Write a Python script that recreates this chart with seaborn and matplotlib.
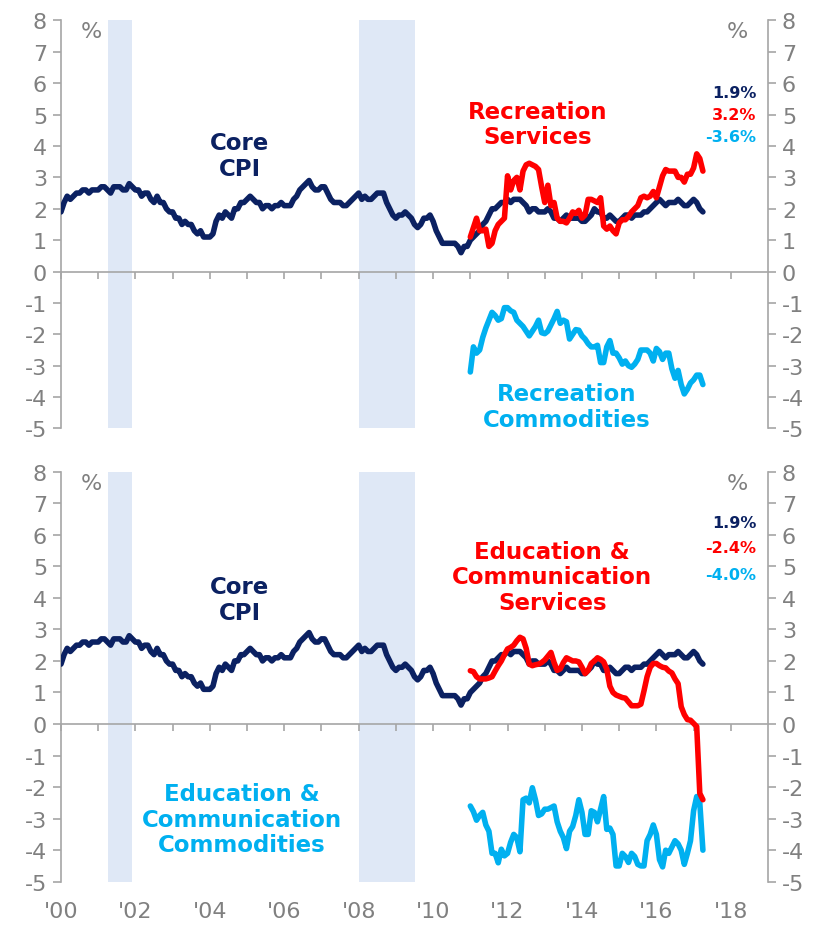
import numpy as np
import pandas as pd
import matplotlib.pyplot as plt
import seaborn as sns

# ---- data (year-over-year %, monthly) ----
core_cpi = [
    1.9, 2.2, 2.4, 2.3, 2.4, 2.5, 2.5, 2.6, 2.6, 2.5, 2.6, 2.6,
    2.6, 2.7, 2.7, 2.6, 2.5, 2.7, 2.7, 2.7, 2.6, 2.6, 2.8, 2.7,
    2.6, 2.6, 2.4, 2.5, 2.5, 2.3, 2.2, 2.4, 2.2, 2.2, 2.0, 1.9,
    1.9, 1.7, 1.7, 1.5, 1.6, 1.5, 1.5, 1.3, 1.2, 1.3, 1.1, 1.1,
    1.1, 1.2, 1.6, 1.8, 1.7, 1.9, 1.8, 1.7, 2.0, 2.0, 2.2, 2.2,
    2.3, 2.4, 2.3, 2.2, 2.2, 2.0, 2.1, 2.1, 2.0, 2.1, 2.1, 2.2,
    2.1, 2.1, 2.1, 2.3, 2.4, 2.6, 2.7, 2.8, 2.9, 2.7, 2.6, 2.6,
    2.7, 2.7, 2.5, 2.3, 2.2, 2.2, 2.2, 2.1, 2.1, 2.2, 2.3, 2.4,
    2.5, 2.3, 2.4, 2.3, 2.3, 2.4, 2.5, 2.5, 2.5, 2.2, 2.0, 1.8,
    1.7, 1.8, 1.8, 1.9, 1.8, 1.7, 1.5, 1.4, 1.5, 1.7, 1.7, 1.8,
    1.6, 1.3, 1.1, 0.9, 0.9, 0.9, 0.9, 0.9, 0.8, 0.6, 0.8, 0.8,
    1.0, 1.1, 1.2, 1.3, 1.5, 1.6, 1.8, 2.0, 2.0, 2.1, 2.2, 2.2,
    2.3, 2.2, 2.3, 2.3, 2.3, 2.2, 2.1, 1.9, 2.0, 2.0, 1.9, 1.9,
    1.9, 2.0, 1.9, 1.7, 1.7, 1.6, 1.7, 1.8, 1.7, 1.7, 1.7, 1.7,
    1.6, 1.6, 1.7, 1.8, 2.0, 1.9, 1.9, 1.7, 1.7, 1.8, 1.7, 1.6,
    1.6, 1.7, 1.8, 1.8, 1.7, 1.8, 1.8, 1.8, 1.9, 1.9, 2.0, 2.1,
    2.2, 2.3, 2.2, 2.1, 2.2, 2.2, 2.2, 2.3, 2.2, 2.1, 2.1, 2.2,
    2.3, 2.2, 2.0, 1.9,
]

# sub-indices start Jan 2011
rec_services = [
    1.1, 1.4, 1.7, 1.3, 1.3, 1.35, 0.8, 0.9, 1.3, 1.5, 1.6, 1.7,
    3.05, 2.6, 2.9, 3.0, 2.6, 3.2, 3.4, 3.45, 3.4, 3.35, 3.25, 2.7,
    2.2, 2.75, 2.1, 2.2, 1.7, 1.6, 1.6, 1.55, 1.7, 1.9, 1.85, 1.95,
    1.7, 1.8, 2.3, 2.3, 2.25, 2.2, 2.35, 1.45, 1.35, 1.45, 1.3, 1.2,
    1.55, 1.65, 1.65, 1.75, 1.9, 2.0, 2.1, 2.35, 2.4, 2.35, 2.4, 2.55,
    2.35, 2.7, 3.05, 3.25, 3.2, 3.2, 3.2, 3.0, 3.0, 2.85, 3.1, 3.1,
    3.3, 3.75, 3.6, 3.2,
]
rec_commodities = [
    -3.2, -2.4, -2.6, -2.5, -2.1, -1.8, -1.55, -1.3, -1.4, -1.55, -1.5, -1.15,
    -1.15, -1.25, -1.3, -1.55, -1.65, -1.75, -1.9, -2.05, -1.9, -1.75, -1.55, -1.95,
    -1.98, -1.9, -1.7, -1.5, -1.27, -1.65, -1.55, -1.6, -2.15, -2.0, -1.85, -1.87,
    -2.05, -2.15, -2.3, -2.4, -2.4, -2.35, -2.9, -2.9, -2.4, -2.2, -2.6, -2.6,
    -2.75, -2.95, -2.85, -3.0, -3.05, -2.95, -2.8, -2.5, -2.5, -2.5, -2.6, -2.85,
    -2.45, -2.55, -2.8, -2.6, -2.6, -3.1, -3.4, -3.15, -3.6, -3.9, -3.75, -3.55,
    -3.45, -3.3, -3.3, -3.6,
]
edu_services = [
    1.69, 1.66, 1.5, 1.43, 1.43, 1.43, 1.46, 1.5, 1.68, 1.85, 2.0, 2.2,
    2.38, 2.43, 2.5, 2.64, 2.75, 2.7, 2.4, 1.9, 1.85, 1.88, 1.9, 1.95,
    2.03, 2.15, 2.27, 1.95, 1.7, 1.75, 1.95, 2.1, 2.05, 2.0, 2.0, 1.97,
    1.8, 1.6, 1.7, 1.92, 2.0, 2.1, 2.05, 1.97, 1.74, 1.2, 1.0, 0.92,
    0.88, 0.84, 0.82, 0.7, 0.58, 0.58, 0.58, 0.63, 1.05, 1.5, 1.8, 1.92,
    1.92, 1.85, 1.8, 1.78, 1.68, 1.62, 1.43, 1.28, 0.55, 0.3, 0.14, 0.12,
    0.02, -0.08, -2.2, -2.4,
]
edu_commodities = [
    -2.6, -2.78, -3.05, -2.9, -2.8, -3.2, -3.4, -4.1, -4.1, -4.4, -3.97, -4.18,
    -4.1, -3.75, -3.5, -3.6, -4.05, -2.4, -2.35, -2.5, -2.02, -2.4, -2.9, -2.85,
    -2.7, -2.7, -2.65, -2.6, -3.1, -3.4, -3.6, -3.95, -3.4, -3.25, -2.9, -2.4,
    -2.8, -3.5, -3.5, -2.75, -2.8, -3.1, -2.7, -2.3, -3.34, -3.3, -3.5, -4.5,
    -4.5, -4.1, -4.2, -4.39, -4.1, -4.2, -4.45, -4.5, -4.5, -3.7, -3.5, -3.2,
    -3.5, -4.3, -4.53, -4.0, -4.1, -3.9, -3.7, -3.8, -4.0, -4.45, -4.1, -3.7,
    -2.75, -2.3, -2.5, -4.0,
]

recessions = [('2001-04-01', '2001-12-01'), ('2008-01-01', '2009-07-01')]
year_ticks = list(range(2000, 2019))
year_labels = ["'%02d" % (y % 100) if y % 2 == 0 else '' for y in year_ticks]


def to_year(dates):
    dates = pd.DatetimeIndex(dates)
    return dates.year + (dates.month - 1) / 12


core_df = pd.DataFrame({'x': to_year(pd.date_range('2000-01-01', periods=len(core_cpi), freq='MS')),
                        'y': core_cpi})
sub_x = to_year(pd.date_range('2011-01-01', periods=len(rec_services), freq='MS'))

NAVY = '#0B2162'
RED = '#FF0000'
SKY = '#00B0F0'
GRAY = '#808080'
BAND = '#DFE8F6'

sns.set_style('white')
plt.rcParams['font.family'] = ['DejaVu Sans']
plt.rcParams['axes.unicode_minus'] = False

fig = plt.figure(figsize=(8.23, 9.28), dpi=100)
ax_top = fig.add_axes([0.0741, 0.5372, 0.8591, 0.4397])
ax_bot = fig.add_axes([0.0741, 0.0488, 0.8591, 0.4418])

line_kw = dict(lw=4, solid_joinstyle='round', solid_capstyle='round')

for ax, serv, comm in [(ax_top, rec_services, rec_commodities),
                       (ax_bot, edu_services, edu_commodities)]:
    for a, b in recessions:
        ax.axvspan(to_year([a])[0], to_year([b])[0], color=BAND, lw=0, zorder=0)
    sns.lineplot(x=sub_x, y=comm, ax=ax, color=SKY, zorder=3, **line_kw)
    sns.lineplot(data=core_df, x='x', y='y', ax=ax, color=NAVY, zorder=3, **line_kw)
    sns.lineplot(x=sub_x, y=serv, ax=ax, color=RED, zorder=4, **line_kw)
    ax.set_xlim(2000, 2019)
    ax.set_ylim(-5, 8)
    ax.set_xlabel('')
    ax.set_ylabel('')
    ax.set_yticks(range(-5, 9))
    ax.set_xticks(year_ticks)
    ax.set_xticklabels([])
    for side in ['left', 'right', 'bottom']:
        ax.spines[side].set_color('#A6A6A6')
        ax.spines[side].set_linewidth(1.2)
    ax.spines['top'].set_visible(False)
    ax.spines['bottom'].set_position(('data', 0))
    ax.yaxis.set_ticks_position('both')
    ax.tick_params(axis='y', which='both', direction='out', length=6, width=1.2,
                   color='#A6A6A6', labelcolor=GRAY, labelsize=16, labelright=True, pad=4)
    ax.tick_params(axis='x', direction='out', length=5, width=1.2, color='#A6A6A6',
                   labelbottom=False, bottom=True)
    ax.text(2000.83, 7.65, '%', color=GRAY, fontsize=16, ha='center', va='center')
    ax.text(2018.17, 7.65, '%', color=GRAY, fontsize=16, ha='center', va='center')

# value call-outs
for txt, col, yy in zip(['1.9%', '3.2%', '-3.6%'], [NAVY, RED, SKY], [5.7, 5.0, 4.3]):
    ax_top.text(2018.68, yy, txt, color=col, fontsize=11.5, fontweight='bold', ha='right', va='center')
for txt, col, yy in zip(['1.9%', '-2.4%', '-4.0%'], [NAVY, RED, SKY], [6.4, 5.6, 4.75]):
    ax_bot.text(2018.68, yy, txt, color=col, fontsize=11.5, fontweight='bold', ha='right', va='center')

# series labels
lab = dict(fontsize=16.5, fontweight='bold', ha='center', va='center', linespacing=1.15)
ax_top.text(2004.8, 3.7, 'Core\nCPI', color=NAVY, **lab)
ax_top.text(2012.8, 4.7, 'Recreation\nServices', color=RED, **lab)
ax_top.text(2013.6, -4.3, 'Recreation\nCommodities', color=SKY, **lab)
ax_bot.text(2004.8, 3.95, 'Core\nCPI', color=NAVY, **lab)
ax_bot.text(2013.2, 4.67, 'Education &\nCommunication\nServices', color=RED, **lab)
ax_bot.text(2004.87, -3.02, 'Education &\nCommunication\nCommodities', color=SKY, **lab)

# year labels along the bottom edge
sec = ax_bot.secondary_xaxis(0)
sec.set_xticks(year_ticks)
sec.set_xticklabels(year_labels)
sec.spines['bottom'].set_visible(False)
sec.tick_params(axis='x', length=0, labelcolor=GRAY, labelsize=16, pad=14)

fig.savefig('out.png', dpi=100)
